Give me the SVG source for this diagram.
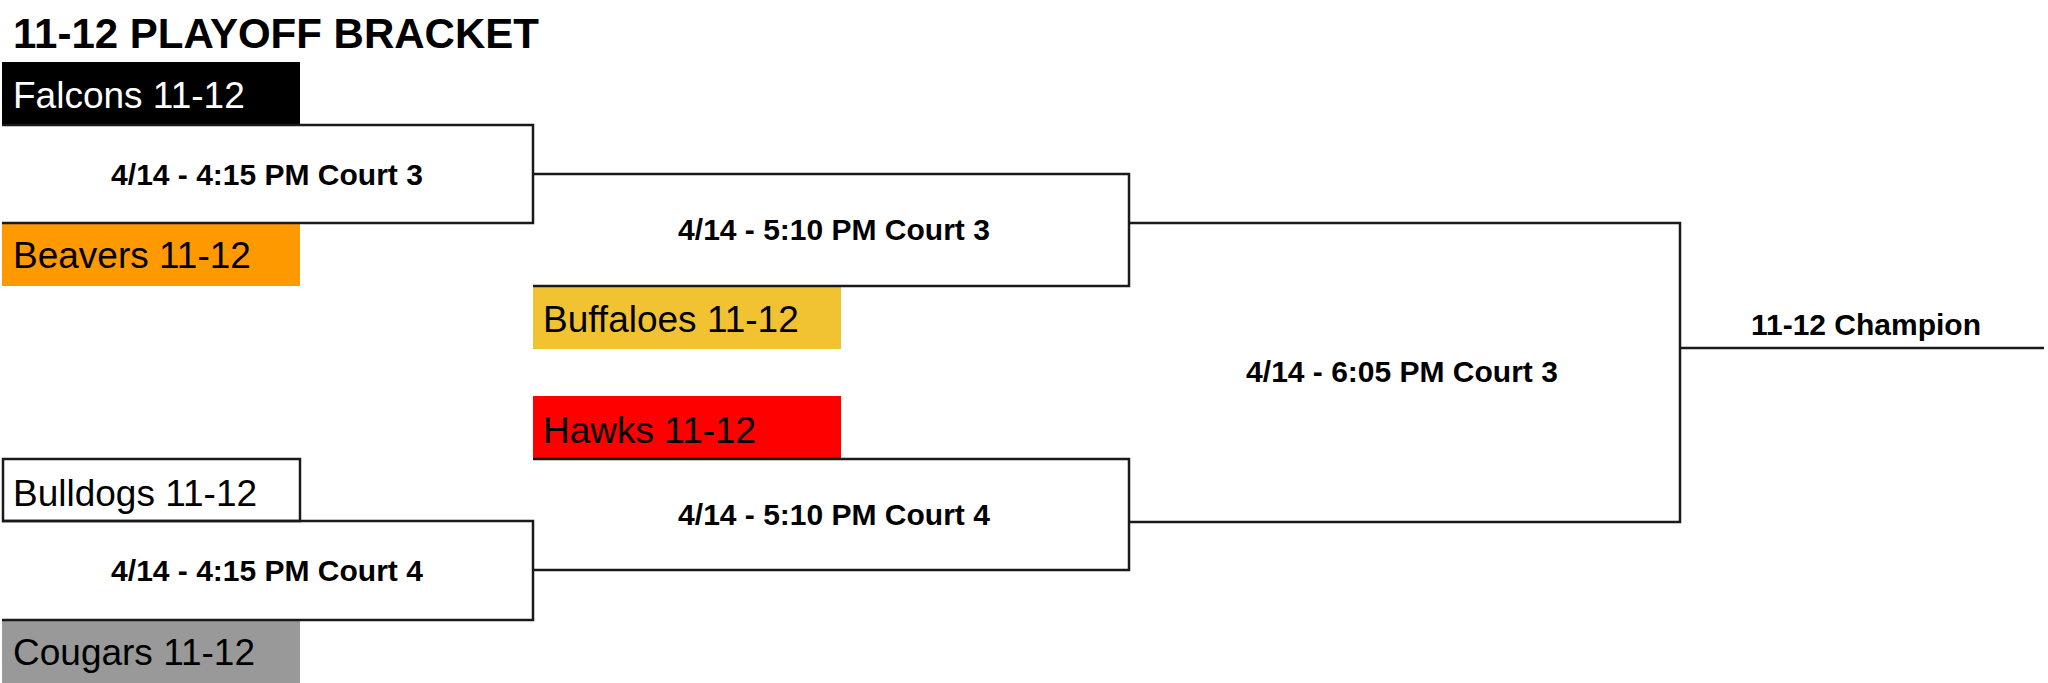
<svg xmlns="http://www.w3.org/2000/svg" width="2048" height="683" viewBox="0 0 2048 683">
<style>
.bg{fill:#ffffff}
.title{font-family:"Liberation Sans",Arial,sans-serif;font-weight:bold;font-size:42px;fill:#000}
.team{font-family:"Liberation Sans",Arial,sans-serif;font-size:37px;fill:#000}
.match{font-family:"Liberation Sans",Arial,sans-serif;font-weight:bold;font-size:30px;fill:#000;text-anchor:middle}
.br{fill:none;stroke:#1a1a1a;stroke-width:2.5}
</style>
<rect class="bg" x="0" y="0" width="2048" height="683"/>
<text class="title" x="13" y="48">11-12 PLAYOFF BRACKET</text>

<g id="falcons"><rect x="2" y="62" width="298" height="63" fill="#000000"/><text class="team" x="13" y="108" fill="#ffffff" style="fill:#ffffff">Falcons 11-12</text></g>
<g id="beavers"><rect x="2" y="223" width="298" height="63" fill="#ff9900"/><text class="team" x="13" y="268">Beavers 11-12</text></g>
<g id="buffaloes"><rect x="533" y="286" width="308" height="63" fill="#f1c232"/><text class="team" x="543" y="332">Buffaloes 11-12</text></g>
<g id="hawks"><rect x="533" y="396" width="308" height="63" fill="#ff0000"/><text class="team" x="543" y="443">Hawks 11-12</text></g>
<g id="bulldogs"><rect x="3" y="459" width="297" height="62" fill="#ffffff" stroke="#1a1a1a" stroke-width="2.5"/><text class="team" x="13" y="506">Bulldogs 11-12</text></g>
<g id="cougars"><rect x="2" y="620" width="298" height="63" fill="#999999"/><text class="team" x="13" y="665">Cougars 11-12</text></g>

<g id="connectors">
<path class="br" d="M2,125 H533 V223 H2"/>
<path class="br" d="M533,174 H1129 V286 H533"/>
<path class="br" d="M533,459 H1129 V570 H533"/>
<path class="br" d="M2,521 H533 V620 H2"/>
<path class="br" d="M1129,223 H1680 V522 H1129"/>
<path class="br" d="M1680,348 H2044"/>
</g>

<g id="m1"><text class="match" x="267" y="185">4/14 - 4:15 PM Court 3</text></g>
<g id="m2"><text class="match" x="834" y="240">4/14 - 5:10 PM Court 3</text></g>
<g id="m3"><text class="match" x="834" y="525">4/14 - 5:10 PM Court 4</text></g>
<g id="m4"><text class="match" x="267" y="581">4/14 - 4:15 PM Court 4</text></g>
<g id="final"><text class="match" x="1402" y="382">4/14 - 6:05 PM Court 3</text></g>
<g id="champion"><text class="match" x="1866" y="335">11-12 Champion</text></g>
</svg>
